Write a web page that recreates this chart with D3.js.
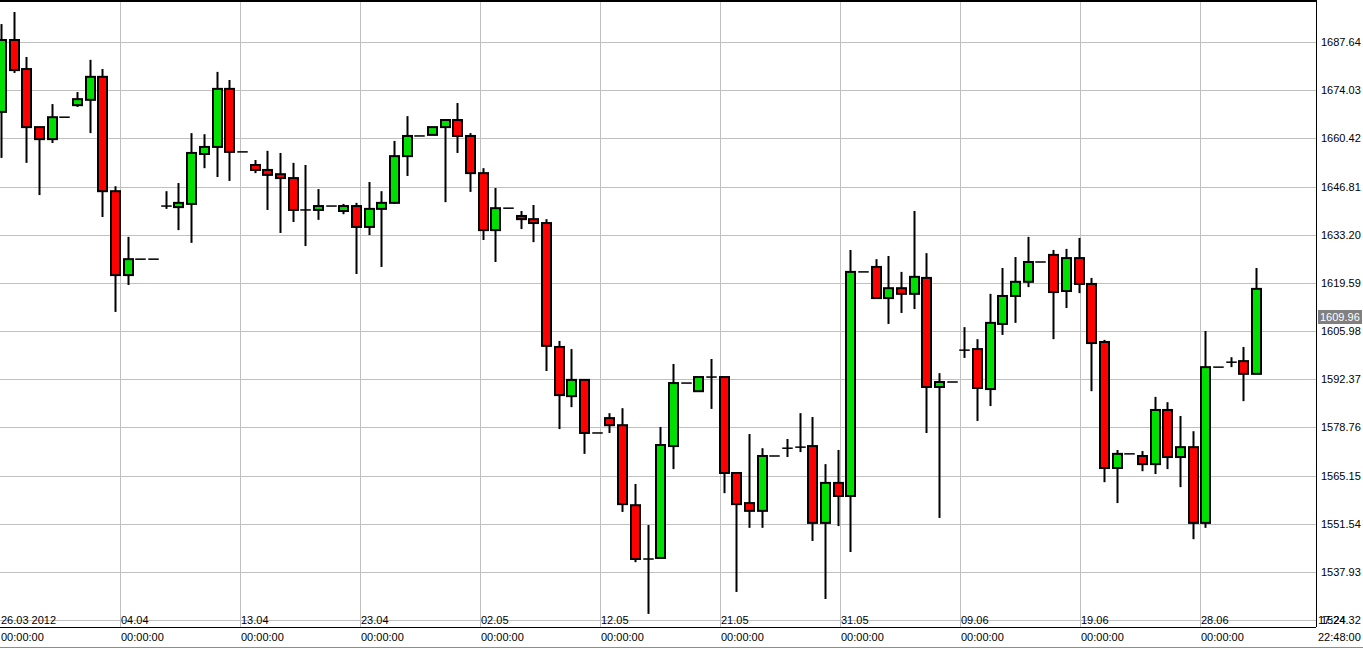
<!DOCTYPE html>
<html><head><meta charset="utf-8">
<script src="https://cdn.jsdelivr.net/npm/d3@7/dist/d3.min.js"></script>
<style>body{margin:0;background:#fff;overflow:hidden}svg{display:block}</style>
</head><body><svg id="c" width="1363" height="649"></svg>
<script>
const opens=[1667.9,1688.2,1680.0,1663.6,1660.2,1666.4,1669.8,1671.3,1677.8,1645.5,1621.8,1626.3,1626.3,1641.3,1641.0,1641.9,1656.0,1658.0,1674.4,1656.6,1652.9,1651.5,1650.3,1649.2,1640.2,1640.2,1641.3,1639.9,1641.3,1635.4,1640.5,1642.2,1655.4,1661.1,1661.4,1663.6,1665.6,1661.1,1650.6,1634.5,1640.7,1638.5,1637.6,1636.5,1601.5,1587.6,1592.2,1577.2,1581.4,1579.4,1556.8,1541.6,1541.9,1573.5,1591.3,1589.0,1593.0,1593.0,1565.9,1557.4,1555.2,1570.7,1572.9,1573.2,1573.5,1551.8,1563.1,1559.4,1622.7,1624.1,1615.3,1618.1,1616.5,1621.0,1590.2,1591.6,1600.6,1600.9,1589.6,1608.0,1615.9,1619.9,1625.5,1627.5,1617.3,1626.6,1619.3,1602.9,1567.3,1571.3,1570.7,1568.4,1583.7,1570.4,1573.2,1551.8,1595.8,1597.2,1597.5,1593.9];
const highs=[1692.7,1696.1,1683.4,1663.6,1670.1,1666.4,1673.5,1682.6,1680.0,1646.9,1632.6,1626.3,1626.3,1645.5,1647.8,1661.9,1661.6,1679.2,1676.9,1656.6,1654.3,1656.9,1656.3,1653.5,1652.9,1646.1,1641.3,1641.9,1642.2,1648.1,1645.5,1659.7,1666.7,1661.1,1663.6,1665.6,1670.4,1661.9,1652.0,1646.4,1640.7,1639.9,1641.6,1637.6,1603.2,1600.9,1592.2,1577.2,1582.8,1584.2,1562.8,1551.2,1578.9,1596.7,1591.3,1593.0,1598.1,1593.0,1565.9,1576.9,1572.9,1570.7,1575.5,1582.8,1581.7,1568.4,1572.4,1628.9,1622.7,1626.3,1627.2,1622.7,1639.9,1628.0,1594.1,1591.6,1607.1,1603.7,1616.5,1623.8,1626.9,1632.6,1625.5,1628.9,1629.2,1632.3,1621.0,1603.5,1572.4,1571.3,1572.1,1587.4,1585.9,1582.0,1577.7,1606.0,1595.8,1598.6,1601.5,1623.8];
const lows=[1654.9,1678.9,1653.5,1644.4,1659.1,1666.4,1669.3,1661.9,1638.2,1611.4,1619.0,1626.3,1626.3,1640.5,1634.5,1630.9,1652.0,1649.5,1648.4,1656.6,1650.6,1640.2,1633.7,1636.8,1630.0,1637.4,1641.3,1639.0,1622.1,1633.1,1624.1,1641.9,1649.8,1661.1,1661.4,1642.4,1656.3,1645.3,1631.7,1625.5,1640.7,1634.8,1631.1,1594.7,1578.3,1584.5,1571.3,1577.2,1577.2,1554.9,1540.7,1526.1,1541.9,1567.0,1591.3,1589.0,1584.0,1560.2,1532.3,1550.4,1550.4,1570.7,1570.4,1571.8,1546.7,1530.3,1550.9,1543.6,1622.7,1615.3,1608.0,1611.1,1612.2,1577.2,1553.2,1591.6,1598.4,1580.6,1584.8,1604.9,1608.3,1618.4,1625.5,1603.7,1612.5,1616.7,1589.0,1563.3,1557.4,1571.3,1566.4,1565.6,1567.0,1561.9,1547.2,1550.4,1595.8,1595.8,1586.2,1593.9];
const closes=[1688.2,1679.7,1663.6,1660.2,1666.4,1666.4,1671.5,1677.8,1645.5,1621.8,1626.3,1626.3,1626.3,1641.3,1642.2,1656.3,1658.0,1674.4,1656.6,1656.6,1651.5,1650.1,1649.2,1640.2,1640.2,1641.3,1641.3,1641.3,1635.4,1640.5,1642.2,1655.4,1661.1,1661.1,1663.6,1665.6,1661.1,1650.6,1634.5,1640.7,1640.7,1637.6,1636.5,1601.8,1587.9,1592.2,1577.2,1577.2,1579.4,1557.1,1541.6,1541.6,1573.8,1591.3,1591.3,1593.0,1593.0,1565.9,1557.1,1555.2,1570.7,1570.7,1572.9,1573.2,1551.8,1563.1,1559.4,1622.7,1622.7,1615.3,1618.1,1616.5,1621.3,1590.2,1591.6,1591.6,1600.6,1589.9,1608.3,1615.9,1619.9,1625.5,1625.5,1617.0,1626.6,1619.3,1602.6,1567.3,1571.3,1571.3,1568.4,1583.7,1570.4,1573.2,1551.8,1595.8,1595.8,1597.2,1593.9,1617.9];
const yTicks=[1524.32,1537.93,1551.54,1565.15,1578.76,1592.37,1605.98,1619.59,1633.20,1646.81,1660.42,1674.03,1687.64];
const dateLabels=["26.03 2012","04.04","13.04","23.04","02.05","12.05","21.05","31.05","09.06","19.06","28.06"];
const timeLabels=["00:00:00","00:00:00","00:00:00","00:00:00","00:00:00","00:00:00","00:00:00","00:00:00","00:00:00","00:00:00","00:00:00"];
const lastPrice=1609.96;

const svg=d3.select("#c");
const W=1316,B=627;
const x=d3.scaleLinear().domain([0,99]).range([1,1256]);
const y=d3.scaleLinear().domain([1537.93,1687.64]).range([572,42]);
const slot=x(1)-x(0);
const font="Liberation Sans, Arial, sans-serif";
const g=svg.append("g");
g.selectAll(".hg").data(yTicks).join("line").attr("x1",0).attr("x2",W).attr("y1",d=>Math.round(y(d))+.5).attr("y2",d=>Math.round(y(d))+.5).attr("stroke","#c0c0c0");
const gridIdx=dateLabels.map((d,k)=>k*120/slot - 1/slot);
g.selectAll(".vg").data(gridIdx.slice(1)).join("line").attr("y1",0).attr("y2",B).attr("x1",d=>Math.round(x(d))+.5).attr("x2",d=>Math.round(x(d))+.5).attr("stroke","#c0c0c0");
const idx=d3.range(opens.length);
const bw=9;
g.selectAll(".wk").data(idx).join("line").attr("x1",i=>Math.round(x(i))+.5).attr("x2",i=>Math.round(x(i))+.5)
 .attr("y1",i=>y(highs[i])).attr("y2",i=>y(lows[i])).attr("stroke","#000").attr("stroke-width",2);
g.selectAll(".bd").data(idx).join("rect")
 .attr("x",i=>Math.round(x(i))-bw/2+.5).attr("width",bw)
 .attr("y",i=>y(Math.max(opens[i],closes[i])))
 .attr("height",i=>Math.max(0.01,Math.abs(y(opens[i])-y(closes[i]))))
 .attr("fill",i=>closes[i]>opens[i]?"#00e000":closes[i]<opens[i]?"#ff0000":"none")
 .attr("stroke","#000").attr("stroke-width",i=>opens[i]===closes[i]?1.5:2);
svg.append("line").attr("x1",0).attr("x2",W).attr("y1",1).attr("y2",1).attr("stroke","#000").attr("stroke-width",2);
svg.append("line").attr("x1",W+.5).attr("x2",W+.5).attr("y1",0).attr("y2",B).attr("stroke","#000");
svg.append("line").attr("x1",0).attr("x2",W).attr("y1",B+.5).attr("y2",B+.5).attr("stroke","#000");
svg.selectAll(".yl").data(yTicks).join("text").attr("x",W+5).attr("y",d=>y(d)+4).text(d=>d.toFixed(2))
 .attr("font-family",font).attr("font-size",11).attr("fill","#000");
const ly=y(lastPrice)+4;
svg.append("rect").attr("x",W+2).attr("y",ly-11).attr("width",44).attr("height",14).attr("fill","#808080");
svg.append("text").attr("x",W+4).attr("y",ly).text(lastPrice.toFixed(2)).attr("font-family",font).attr("font-size",11).attr("fill","#fff");
svg.selectAll(".dl").data(dateLabels).join("text").attr("x",(d,k)=>x(gridIdx[k])+1).attr("y",624).text(d=>d)
 .attr("font-family",font).attr("font-size",11).attr("fill","#000");
svg.selectAll(".tl").data(timeLabels).join("text").attr("x",(d,k)=>x(gridIdx[k])+1).attr("y",641).text(d=>d)
 .attr("font-family",font).attr("font-size",11).attr("fill","#000");
svg.append("text").attr("x",W+2).attr("y",641).text("22:48:00").attr("font-family",font).attr("font-size",11);
svg.append("text").attr("x",W+2).attr("y",624).text("17:24").attr("font-family",font).attr("font-size",11);
svg.append("line").attr("x1",0).attr("x2",1363).attr("y1",647.5).attr("y2",647.5).attr("stroke","#7090c0");
</script></body></html>
